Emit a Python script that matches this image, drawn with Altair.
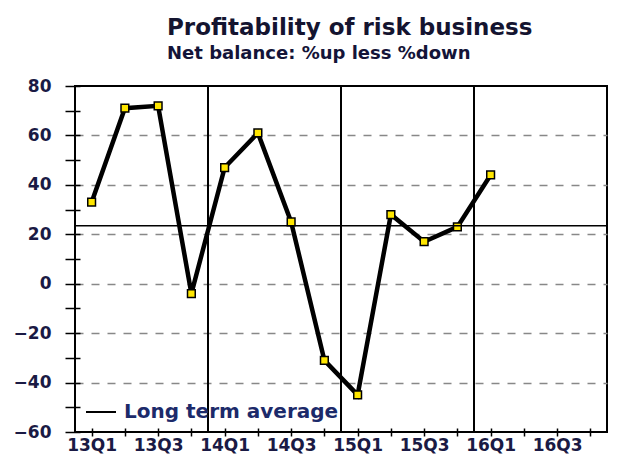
import altair as alt
import pandas as pd

quarters = ["13Q1", "13Q2", "13Q3", "13Q4", "14Q1", "14Q2", "14Q3", "14Q4",
            "15Q1", "15Q2", "15Q3", "15Q4", "16Q1", "16Q2", "16Q3", "16Q4"]
balance = [33, 71, 72, -4, 47, 61, 25, -31, -45, 28, 17, 23, 44]
long_term_average = 23.5
year_starts = ["14Q1", "15Q1", "16Q1"]
y_ticks = list(range(-60, 81, 10))

FONT = "DejaVu Sans"
NAVY = "#1a1a44"

df = pd.DataFrame({"idx": list(range(len(balance))),
                   "quarter": quarters[:len(balance)],
                   "balance": balance})
sep = pd.DataFrame({"idx": [quarters.index(q) - 0.5 for q in year_starts]})
avg = pd.DataFrame({"series": ["Long term average"], "balance": [long_term_average]})

xscale = alt.Scale(domain=[-0.5, len(quarters) - 0.5], nice=False, zero=False)
yscale = alt.Scale(domain=[-60, 80], nice=False, zero=False)

label_arr = "[" + ",".join("'%s'" % q for q in quarters) + "]"

x_axis = alt.Axis(
    values=list(range(len(quarters))),
    labelExpr="datum.value % 2 == 0 ? " + label_arr + "[datum.value] : ''",
    title=None, grid=False, domain=False, offset=-4, tickSize=8,
    tickColor="black", tickWidth=1.5, labelPadding=1,
    labelFont=FONT, labelFontSize=17, labelFontWeight="bold", labelColor=NAVY,
    labelFlush=False, labelOverlap=False,
)
y_axis = alt.Axis(
    values=y_ticks,
    labelExpr="datum.value % 20 == 0 ? datum.label : ''",
    title=None, domain=False, offset=-5, tickSize=15, tickColor="black",
    tickWidth=1.5, labelPadding=14,
    labelFont=FONT, labelFontSize=17, labelFontWeight="bold", labelColor=NAVY,
    labelFlush=False, labelOverlap=False,
    grid=True, gridColor="#888888", gridDash=[8, 8], gridWidth=1.5,
    gridOpacity={"condition": {"test": "datum.value % 20 == 0 && datum.value > -60 && datum.value < 80", "value": 1}, "value": 0},
)

X = alt.X("idx:Q", scale=xscale, axis=x_axis)
Y = alt.Y("balance:Q", scale=yscale, axis=y_axis)

line = alt.Chart(df).mark_line(
    color="black", strokeWidth=4.5,
    point=alt.OverlayMarkDef(shape="square", filled=True, fill="#FFE600",
                             stroke="black", strokeWidth=1.5, size=60, opacity=1),
).encode(x=X, y=Y)

seps = alt.Chart(sep).mark_rule(color="black", strokeWidth=2).encode(x=X)

avg_rule = alt.Chart(avg).mark_rule(strokeWidth=1.5).encode(
    y=Y,
    color=alt.Color("series:N", scale=alt.Scale(range=["black"]),
                    legend=alt.Legend(title=None, orient="bottom-left", offset=10,
                                      padding=0, symbolType="stroke", symbolSize=900,
                                      symbolStrokeWidth=2, labelOffset=7, labelLimit=400,
                                      labelFont=FONT, labelFontSize=20,
                                      labelFontWeight="bold", labelColor="#1c2a6a")),
)

chart = alt.layer(line, seps, avg_rule).properties(
    width=532, height=346,
    autosize=alt.AutoSizeParams(type="none"),
    padding={"left": 75, "top": 86, "right": 10, "bottom": 27},
    title=alt.TitleParams(
        text="Profitability of risk business",
        subtitle="Net balance: %up less %down",
        anchor="start", frame="group", dx=92, offset=14,
        font=FONT, fontSize=23, fontWeight="bold", color="#141430",
        subtitleFont=FONT, subtitleFontSize=18, subtitleFontWeight="bold",
        subtitleColor="#141438", subtitlePadding=5,
    ),
).configure(background="white").configure_view(stroke="black", strokeWidth=2)

chart.save("out.html", embed_options={"renderer": "svg", "actions": False})
